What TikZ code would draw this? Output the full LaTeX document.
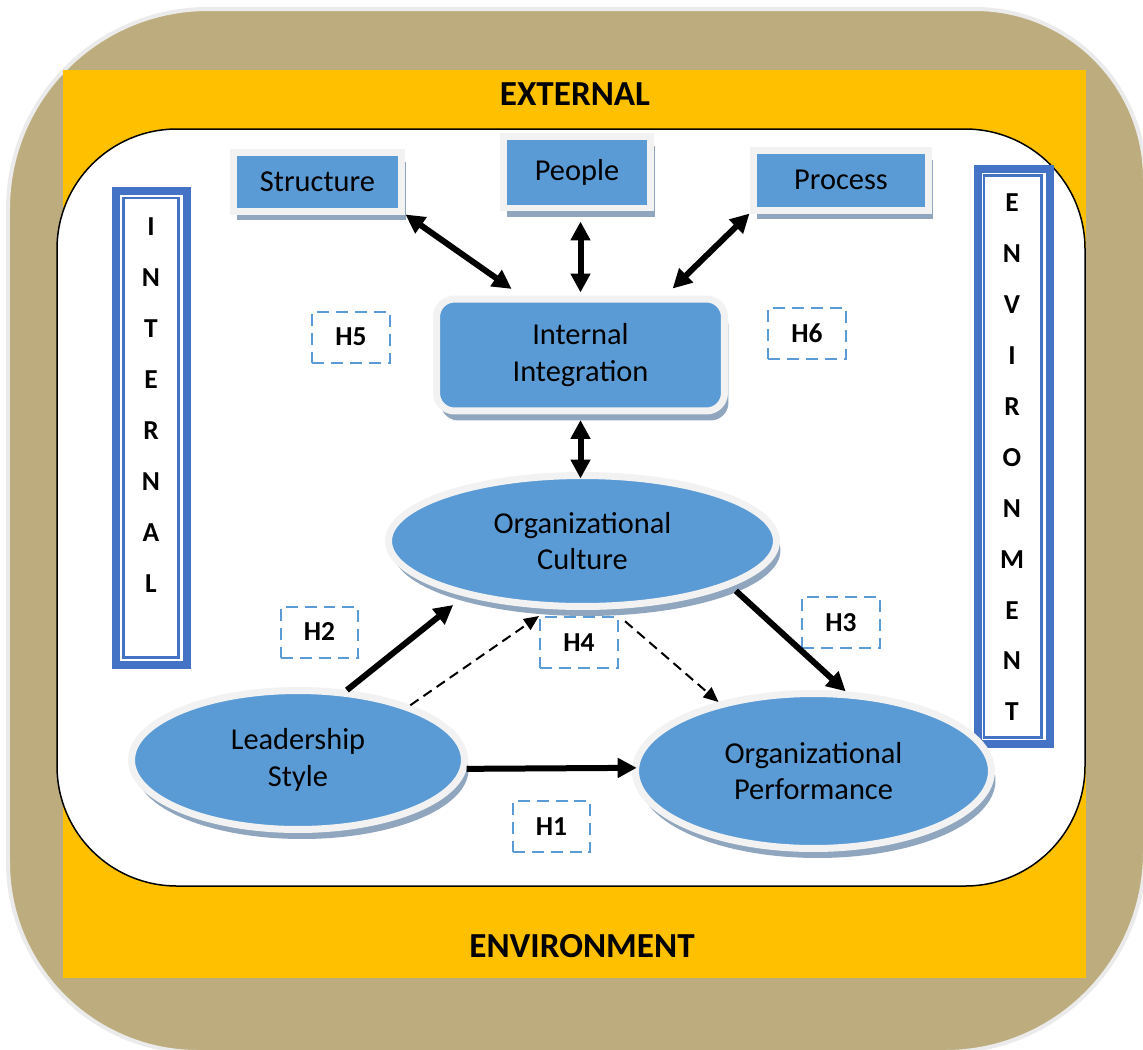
\documentclass[tikz,border=0pt]{standalone}
\usepackage{fontspec}
\setmainfont{Carlito}
\usetikzlibrary{arrows.meta,shapes.geometric,shadows}
\definecolor{tanband}{HTML}{BDAD7E}
\definecolor{amber}{HTML}{FFC000}
\definecolor{cellblue}{HTML}{5B9BD5}
\definecolor{framegray}{HTML}{F2F2F2}
\definecolor{shadowblue}{HTML}{8FA6BE}
\definecolor{bandblue}{HTML}{4472C4}

\begin{document}
\begin{tikzpicture}[x=0.02cm,y=-0.02cm,
  box/.style={draw=framegray, line width=0.14cm, fill=cellblue, inner sep=0pt,
    align=center, font=\fontsize{17.3pt}{21pt}\selectfont,
    drop shadow={shadow xshift=0.08cm, shadow yshift=-0.19cm, fill=shadowblue, opacity=1}},
  oval/.style={box, ellipse},
  hyp/.style={draw=cellblue, line width=0.04cm, dash pattern=on 0.24cm off 0.14cm,
    minimum width=1.56cm, minimum height=1.02cm, inner sep=0pt,
    font=\bfseries\fontsize{15.6pt}{18pt}\selectfont},
  link/.style={line width=0.12cm,
    {Triangle[length=0.38cm,width=0.38cm]}-{Triangle[length=0.38cm,width=0.38cm]}},
  effect/.style={line width=0.12cm, -{Triangle[length=0.38cm,width=0.38cm]}},
  weak/.style={line width=0.04cm, dash pattern=on 0.2cm off 0.12cm,
    -{Triangle[length=0.3cm,width=0.26cm]}},
  letter/.style={font=\bfseries\fontsize{15.6pt}{18pt}\selectfont, inner sep=0pt},
  banner/.style={font=\bfseries\fontsize{20pt}{24pt}\selectfont, inner sep=0pt},
  sideframe/.style={draw=bandblue, line width=0.16cm},
  sideline/.style={draw=bandblue, line width=0.05cm},
]
\useasboundingbox (0,0) rectangle (1143,1049);
\clip (0,0) rectangle (1143,1049);

% layered background: tan band (unequal corner radii), amber field, white panel
\path[fill=tanband, draw=black!8, line width=0.08cm]
  (208,9) -- (975,9) arc[start angle=-90, end angle=0, radius=170]
  -- (1145,852) arc[start angle=0, end angle=90, radius=200]
  -- (198,1052) arc[start angle=90, end angle=180, radius=190]
  -- (8,209) arc[start angle=180, end angle=270, radius=200] -- cycle;
\fill[amber] (63,70) rectangle (1086,978);
\path[fill=white, draw=black, line width=0.03cm, rounded corners=2.4cm]
  (57,129) rectangle (1085,886);

\node[banner] (exttitle) at (575,94) {EXTERNAL};
\node[banner] (envtitle) at (582,946) {ENVIRONMENT};

% vertical side bands
\draw[sideframe] (116,191) rectangle (187,665);
\draw[sideline] (123.5,198) rectangle (178.5,657.5);
\foreach \ch [count=\i from 0] in {I,N,T,E,R,N,A,L}
  \node[letter] (int\i) at (151,{227+51*\i}) {\ch};

\draw[sideframe] (977.5,169) rectangle (1050,744);
\draw[sideline] (984,175.5) rectangle (1041.5,737.5);
\foreach \ch [count=\i from 0] in {E,N,V,I,R,O,N,M,E,N,T}
  \node[letter] (env\i) at (1012,{203+50.9*\i}) {\ch};

% boxes
\node[box, minimum width=3.38cm, minimum height=1.18cm] (structure) at (317.5,181.5) {Structure};
\node[box, minimum width=2.96cm, minimum height=1.44cm] (people) at (577,172) {People};
\node[box, minimum width=3.52cm, minimum height=1.2cm] (process) at (841,180) {Process};
\node[box, rounded corners=0.36cm, minimum width=5.76cm, minimum height=2.24cm]
  (integ) at (580.5,355) {Internal\\Integration};

% ovals
\node[oval, minimum width=7.76cm, minimum height=2.62cm] (culture) at (582.5,541) {Organizational\\Culture};
\node[oval, minimum width=6.66cm, minimum height=2.78cm] (lead) at (298,760) {Leadership\\Style};
\node[oval, minimum width=7.12cm, minimum height=3.1cm] (perf) at (813.5,771) {Organizational\\Performance};

% hypothesis labels
\node[hyp] (h1) at (551.5,826.5) {H1};
\node[hyp] (h2) at (319.5,632) {H2};
\node[hyp] (h3) at (841,622.5) {H3};
\node[hyp] (h4) at (579,642.5) {H4};
\node[hyp] (h5) at (351,337) {H5};
\node[hyp] (h6) at (807,333.5) {H6};

% connectors
\draw[link, shorten >=0.23cm] (structure.south east) -- (integ.135);
\draw[link, shorten <=0.2cm, shorten >=0.06cm] (integ.north |- people.south) -- (integ.north);
\draw[link, shorten >=0.2cm] (process.south west) -- (integ.35);
\draw[link, shorten <=0.11cm, shorten >=-0.13cm] (integ.south) -- (integ.south |- culture.north);
\draw[effect, shorten >=-0.09cm] (lead.-3) -- (perf.179);
\draw[effect, shorten >=0.28cm] (lead.55.5) -- (culture.205);
\draw[effect, shorten <=0.13cm] (culture.-17.3) -- (perf.68.8);
\draw[weak] (lead.26) -- (h4.north west);
\draw[weak, shorten <=0.16cm] (h4.north east) -- (perf.144);
\end{tikzpicture}
\end{document}
